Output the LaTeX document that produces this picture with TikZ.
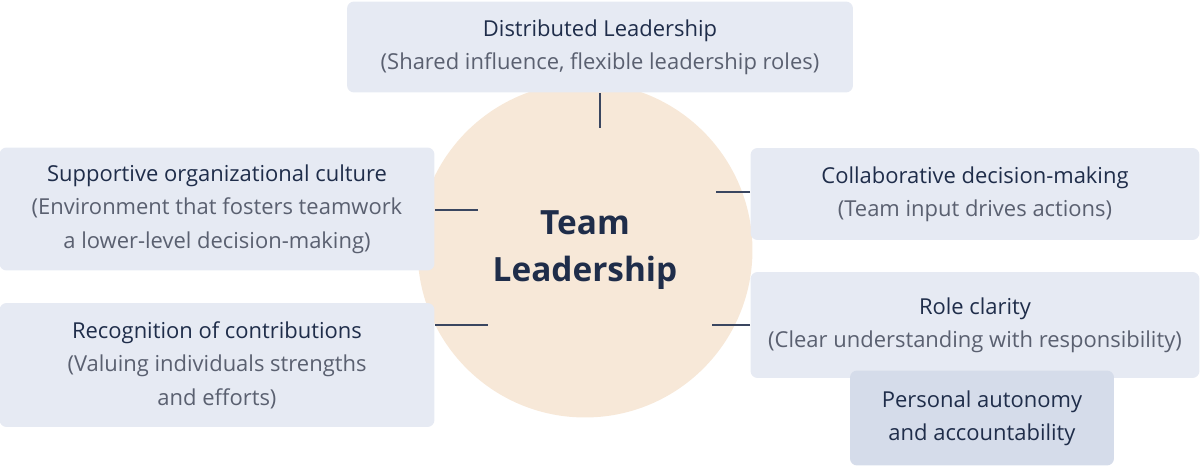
\documentclass[tikz,border=0pt]{standalone}
\usepackage{fontspec}
\setmainfont{Open Sans}
\definecolor{boxfill}{HTML}{E6EAF3}
\definecolor{darkfill}{HTML}{D5DCEA}
\definecolor{ink}{HTML}{1F2D4A}
\definecolor{subink}{HTML}{5A6070}
\definecolor{hub}{HTML}{F7E8D8}
\definecolor{wire}{HTML}{3A4660}
\begin{document}
\begin{tikzpicture}[x=0.02cm, y=-0.02cm,
    topic/.style ={rectangle, rounded corners=4pt, fill=boxfill, inner sep=0pt, align=center, text=ink, font=\fontsize{12.5}{19}\selectfont},
    wire/.style ={thick, draw=wire}]
   \useasboundingbox (0,0) rectangle (1200,467);
   \node[circle, fill=hub, minimum size=6.7cm, inner sep=0pt, text=ink, align=center,
         font=\fontsize{19}{27}\selectfont\bfseries] (hub) at (585,250) {Team\\Leadership};

   \node[topic, minimum width=10.12cm, minimum height=1.82cm] (dist) at (600,47)
     {Distributed Leadership\\{\color{subink}(Shared influence, flexible leadership roles)}};
   \node[topic, minimum width=8.7cm, minimum height=2.46cm] (cult) at (217,209)
     {Supportive organizational culture\\{\color{subink}(Environment that fosters teamwork}\\{\color{subink}a lower-level decision-making)}};
   \node[topic, minimum width=8.7cm, minimum height=2.48cm] (recog) at (217,365)
     {Recognition of contributions\\{\color{subink}(Valuing individuals strengths}\\{\color{subink}and efforts)}};
   \node[topic, minimum width=8.98cm, minimum height=1.84cm] (collab) at (975,194)
     {Collaborative decision-making\\{\color{subink}(Team input drives actions)}};
   \node[topic, minimum width=8.98cm, minimum height=2.12cm] (role) at (975,325)
     {Role clarity\\{\color{subink}(Clear understanding with responsibility)}};
   \node[topic, fill=darkfill, minimum width=5.28cm, minimum height=1.9cm] (auto) at (982,418)
     {Personal autonomy\\and accountability};

   \coordinate (hubtop) at (600,128);
   \coordinate (hubcult) at (478,210);
   \coordinate (hubrecog) at (488,325);
   \coordinate (hubcollab) at (716,192);
   \coordinate (hubrole) at (712,325);

   \draw[wire] (dist) -- (hubtop);
   \draw[wire] (cult.east |- hubcult) -- (hubcult);
   \draw[wire] (recog.east |- hubrecog) -- (hubrecog);
   \draw[wire] (collab.west |- hubcollab) -- (hubcollab);
   \draw[wire] (role.west |- hubrole) -- (hubrole);
 \end{tikzpicture}
\end{document}
